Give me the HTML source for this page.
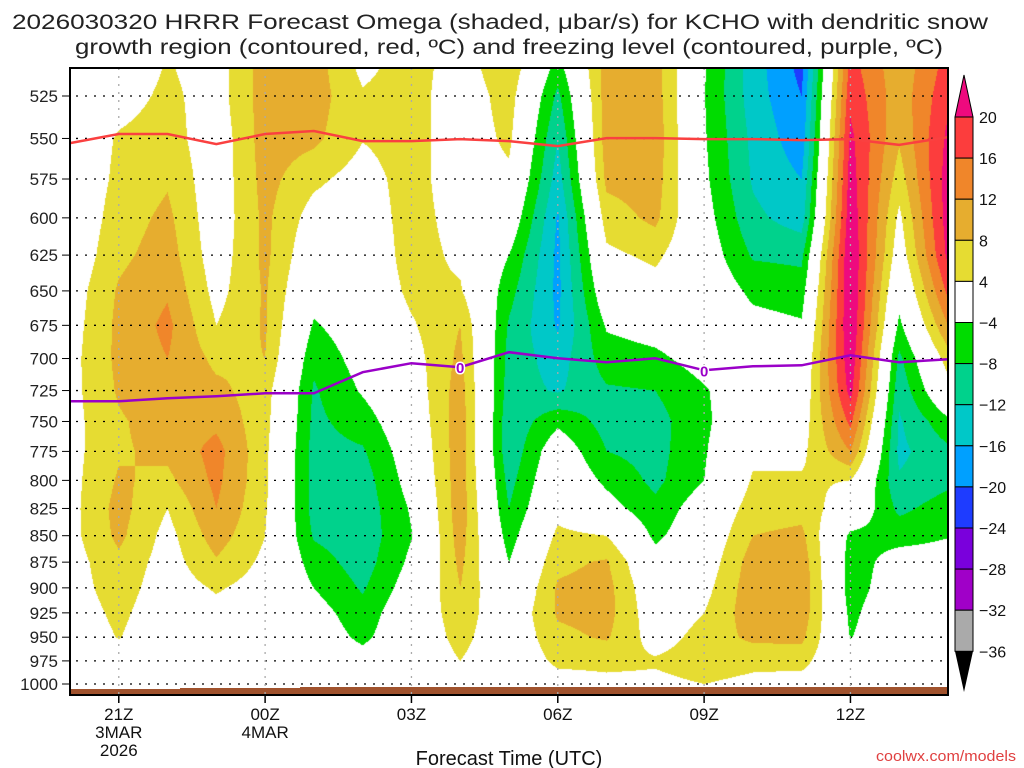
<!DOCTYPE html>
<html><head><meta charset="utf-8"><style>
html,body{margin:0;padding:0;background:#fff;width:1024px;height:768px;overflow:hidden}
#wrap{position:relative;width:1024px;height:768px}
canvas{position:absolute;left:70px;top:68px}
svg{position:absolute;left:0;top:0}
text{font-family:"Liberation Sans",sans-serif}
</style></head><body>
<div id="wrap">
<canvas id="cv" width="878" height="627"></canvas>
<svg id="sv" width="1024" height="768"></svg>
</div>
<script>
// ---- data ----
const levels=[500,525,550,575,600,625,650,675,700,725,750,775,800,825,850,875,900,925,950,975,1000];
const hours=["20Z","21Z","22Z","23Z","00Z","01Z","02Z","03Z","04Z","05Z","06Z","07Z","08Z","09Z","10Z","11Z","12Z","13Z","14Z"];
const omega0=[0,0,0,0,0,0.5,1.5,2,2.5,2.5,2.5,2.5,2.5,2.5,2.5,2,2,1.5,1,0,0];
const omega1=[0,2,4.5,5,6,7,8.5,9,9,8.5,7.5,7.5,8.5,9.5,9,7,6,5,4.2,2,0];
const omega2=[4,5,6,7.5,9,10,11.5,13,12,11,10,9,7,4,2.5,2,1.5,1,0.5,0,0];
const omega3=[2,2,1,1,1,1.5,2.5,4,7,9,11,13.5,13,12,10,7.5,4.5,2.5,1,0,0];
const omega4=[10,10,10,9.5,9,9,8.5,8.5,8,6,5.5,5,5,4.5,4,3,2,1,0,0,0];
const omega5=[10,10,9,5,2,0,-2,-4.5,-7,-8.5,-9,-9.5,-9.5,-9.5,-8.5,-6,-4,-2,-1,0,0];
const omega6=[2,4.5,4.2,2,1,0,0,-1,-2,-3.5,-6,-8.5,-10,-10.5,-10.5,-10,-8.5,-6.5,-5,-2,0];
const omega7=[6,6,6,6,6,6,5,3.5,2,1,0,-1,-2,-3.5,-4.2,-3,-1.5,0,0,0,0];
const omega8=[2,1,1,1,2,3,4.5,8,9,10,10.5,10.5,10.5,10.5,10,9,8,6.5,5.5,4,2];
const omega9=[8,6,5,3,0,-4,-6.5,-8.5,-9.5,-10,-11,-11,-9.5,-8,-6,-4,-2,0,0,0,0];
const omega10=[-4.2,-9,-12,-14,-16.5,-17,-17,-16.5,-14,-12.5,-5,-0.5,1,2.5,5,7,8.5,8.5,7,5,2];
const omega11=[10,10,10,9,6,3,0,-3.5,-6,-8.5,-9.5,-8,-5,-2,4,8.5,9.5,9.5,8.5,5,3];
const omega12=[10,10,10.5,10,9,5,2,-2,-5,-8,-9.5,-9.5,-9,-7,-5,-2,0,1,2,4.5,3];
const omega13=[-3.5,-3.8,-3.5,-3,-2,-1,0,0,-2,-4.5,-5,-4.5,-4,-1,0,1,2.5,4,5.5,6,4];
const omega14=[-14,-14,-13,-12.5,-11,-8.5,-5,-2.5,-1,0,1,3,4.5,6,8,10,10.5,10.5,9,5,3];
const omega15=[-22,-20,-18.5,-16,-14,-9,-6,-3.5,-1,0,1.5,3,4.5,6.5,9,10.5,11,10.5,9,5.5,2];
const omega16=[17,19,21,22,23,24,24,24,23,21.5,17,12,4,1,-5,-6,-6,-5,-4.2,-2,0];
const omega17=[9,9.5,8.5,6,3,1,-2,-5,-9,-11,-12.5,-13,-11.5,-9,-5.5,-2,-1,0,0,0,0];
const omega18=[17,19,21,22,22,21,17,12,6,2,-5,-9,-9,-6,-4.2,-2,-1,0,0,0,0];
const dgzP=[552.8,547.3,547.3,553.4,547.3,545.5,551.6,551.6,550.4,551.6,554.6,549.8,549.8,550.4,550.4,551,550.4,553.9,549.2];
const frzP=[733.6,733.6,731.2,729.6,727.2,727.2,710.6,703.6,706.7,695.2,699.8,702.9,699.8,709.1,706,705.2,697.5,702.9,700.6];
const yTicks=[525,550,575,600,625,650,675,700,725,750,775,800,825,850,875,900,925,950,975,1000];
const xTickHours=[1,4,7,10,13,16];
const xTickLabels=[["21Z","3MAR","2026"],["00Z","4MAR"],["03Z"],["06Z"],["09Z"],["12Z"]];
const cbLevels=[20,16,12,8,4,-4,-8,-12,-16,-20,-24,-28,-32,-36];
const cbColors=["#fc3d3d","#f0862a","#e6ad2f","#e6dc32","#ffffff","#00dc00","#00d28c","#00c8c8","#00a0ff","#1e3cff","#7a00dc","#a000c8","#aaaaaa"];
const omega=[omega0,omega1,omega2,omega3,omega4,omega5,omega6,omega7,omega8,omega9,omega10,omega11,omega12,omega13,omega14,omega15,omega16,omega17,omega18];

// ---- axes ----
const X0=70,X1=948,Y0=68,Y1=695;
const hx=h=>X0+h*(X1-X0)/(hours.length-1);
const py=p=>96+588*Math.log(p/525)/Math.log(1000/525);
const yp=y=>525*Math.exp((y-96)/588*Math.log(1000/525));

function colorFor(v){
  if(v>=20) return [238,10,126];
  if(v<-36) return [0,0,0];
  for(let i=0;i<cbLevels.length-1;i++){
    if(v<cbLevels[i]&&v>=cbLevels[i+1]){const c=cbColors[i];return [parseInt(c.substr(1,2),16),parseInt(c.substr(3,2),16),parseInt(c.substr(5,2),16)];}
  }
  return [255,255,255];
}
// ---- shading ----
const cv=document.getElementById('cv'),ctx=cv.getContext('2d');
const W=cv.width,H=cv.height,img=ctx.createImageData(W,H);
const nh=hours.length,nl=levels.length;
for(let j=0;j<H;j++){
  const p=yp(Y0+j+0.5);
  let r=(p-levels[0])/25; r=Math.max(0,Math.min(nl-1.0001,r));
  const r0=Math.floor(r),fr=r-r0;
  for(let i=0;i<W;i++){
    let t=(i+0.5)/W*(nh-1); t=Math.max(0,Math.min(nh-1.0001,t));
    const t0=Math.floor(t),ft=t-t0;
    const v=(omega[t0][r0]*(1-ft)+omega[t0+1][r0]*ft)*(1-fr)+(omega[t0][r0+1]*(1-ft)+omega[t0+1][r0+1]*ft)*fr;
    const c=colorFor(v),k=(j*W+i)*4;
    img.data[k]=c[0];img.data[k+1]=c[1];img.data[k+2]=c[2];img.data[k+3]=255;
  }
}
ctx.putImageData(img,0,0);

// ---- svg ----
const NS="http://www.w3.org/2000/svg",sv=document.getElementById('sv');
function mk(tag,attrs,parent){const e=document.createElementNS(NS,tag);for(const k in attrs)e.setAttribute(k,attrs[k]);(parent||sv).appendChild(e);return e;}
function txt(s,x,y,attrs){const e=mk('text',Object.assign({x:x,y:y},attrs));e.textContent=s;return e;}

// terrain
let g=mk('path',{d:`M${X0} 689 L180 689 L180 688 L300 688 L300 687 L${X1} 687 L${X1} ${Y1} L${X0} ${Y1} Z`,fill:'#a0522d'});



// gridlines
yTicks.forEach(p=>{
  const y=py(p);
  const l=mk('line',{x1:X0+6,x2:X1,y1:y,y2:y,stroke:'#000','stroke-width':1.3,'stroke-dasharray':'2 7'});
  
  
  mk('line',{x1:X0-8,x2:X0,y1:y,y2:y,stroke:'#000','stroke-width':1});
  const t=txt(String(p),58,y+6,{'font-size':17,'text-anchor':'end',fill:'#222'});
  
  
});
xTickHours.forEach((h,i)=>{
  const x=hx(h);
  const l=mk('line',{x1:x,x2:x,y1:Y0,y2:Y1,stroke:'#aaa','stroke-width':1.3,'stroke-dasharray':'2 6'});
  
  
  mk('line',{x1:x,x2:x,y1:Y1,y2:Y1+8,stroke:'#000','stroke-width':1.5});
  xTickLabels[i].forEach((s,k)=>{
    const t=txt(s,x,720+k*18,{'font-size':17,'text-anchor':'middle',fill:'#111'});
    
    
  });
});

// isolines
function lineFrom(arr,color,name){
  const d=arr.map((p,h)=>(h?'L':'M')+hx(h).toFixed(1)+' '+py(p).toFixed(1)).join(' ');
  const e=mk('path',{d:d,fill:'none',stroke:color,'stroke-width':2.5});
  
  
}
lineFrom(dgzP,'#fa4040','dendritic-growth-contour');
lineFrom(frzP,'#9a00c8','freezing-level-contour');
[8,13].forEach(h=>{
  const t=txt('0',hx(h),py(frzP[h])+6,{'font-size':15,'font-weight':'bold','text-anchor':'middle',fill:'#9a00c8',stroke:'#fff','stroke-width':3,'paint-order':'stroke'});
  
  
});

// frame
g=mk('rect',{x:X0,y:Y0,width:X1-X0,height:Y1-Y0,fill:'none',stroke:'#000','stroke-width':2});



// colorbar
const CX=955,CW=18,STEP=41.1;
const cbY=i=>117+i*STEP;
for(let i=0;i<cbColors.length;i++){
  const r=mk('rect',{x:CX,y:cbY(i),width:CW,height:STEP,fill:cbColors[i],stroke:'#000','stroke-width':1});
  
  
}
g=mk('polygon',{points:`${CX},117 ${CX+CW},117 ${CX+CW/2},75`,fill:'#ee0a7e',stroke:'#000','stroke-width':1});


g=mk('polygon',{points:`${CX},${cbY(13)} ${CX+CW},${cbY(13)} ${CX+CW/2},692`,fill:'#000'});


cbLevels.forEach((v,i)=>{
  const t=txt(v<0?'\u2212'+(-v):String(v),979,cbY(i)+6,{'font-size':16,fill:'#111'});
  
  
});

// titles
g=txt('2026030320 HRRR Forecast Omega (shaded, \u03bcbar/s) for KCHO with dendritic snow',500,29,{'font-size':21,'text-anchor':'middle',fill:'#222',textLength:976,lengthAdjust:'spacingAndGlyphs'});


g=txt('growth region (contoured, red, \u00baC) and freezing level (contoured, purple, \u00baC)',509,54,{'font-size':21,'text-anchor':'middle',fill:'#222',textLength:868,lengthAdjust:'spacingAndGlyphs'});


g=txt('Forecast Time (UTC)',509,765,{'font-size':20,'text-anchor':'middle',fill:'#111'});


g=txt('coolwx.com/models',1016,761,{'font-size':15,'text-anchor':'end',fill:'#e04040',textLength:140,lengthAdjust:'spacingAndGlyphs'});


</script>
</body></html>
